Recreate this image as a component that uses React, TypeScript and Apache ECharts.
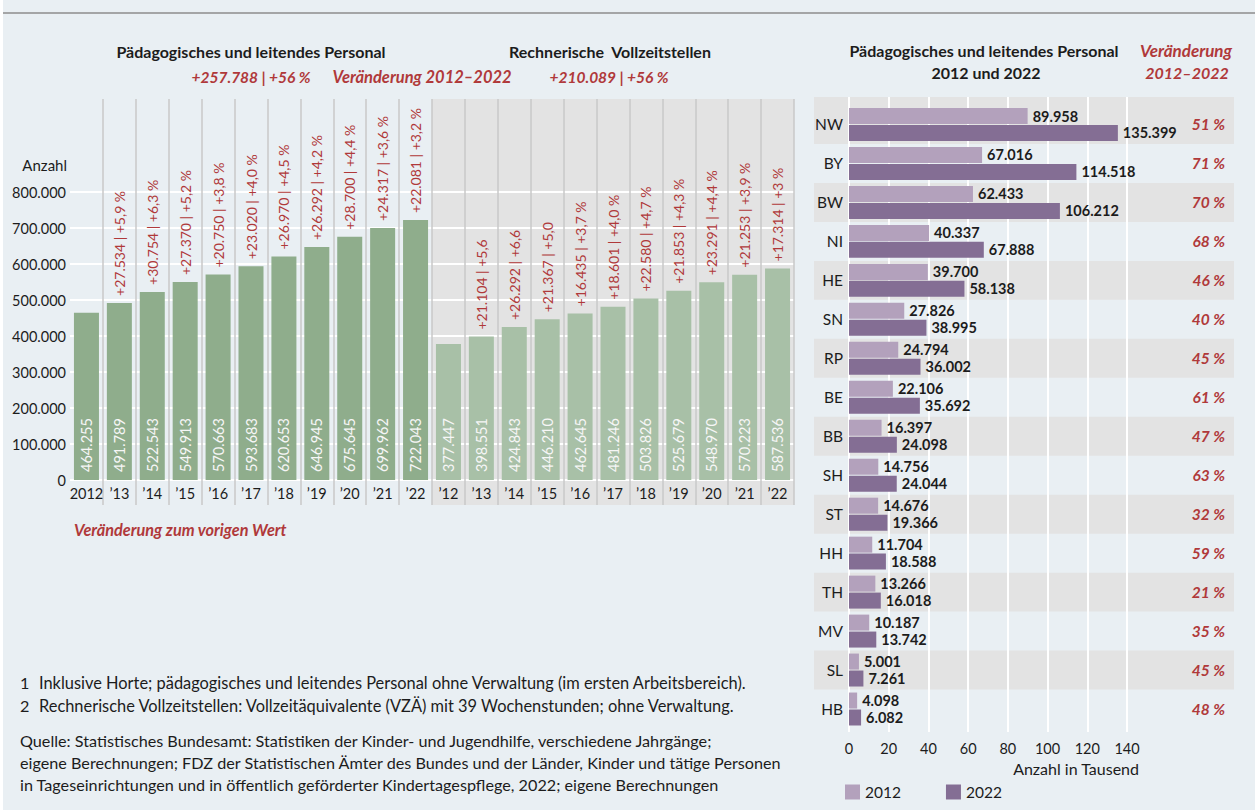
import React, { useEffect, useRef } from 'react';
import * as echarts from 'echarts';

// ---------- Left chart data ----------
const categories = [
  'P2012', 'P2013', 'P2014', 'P2015', 'P2016', 'P2017', 'P2018', 'P2019', 'P2020', 'P2021', 'P2022',
  'V2012', 'V2013', 'V2014', 'V2015', 'V2016', 'V2017', 'V2018', 'V2019', 'V2020', 'V2021', 'V2022',
];
const xLabels = [
  '2012', '\u201913', '\u201914', '\u201915', '\u201916', '\u201917', '\u201918', '\u201919', '\u201920', '\u201921', '\u201922',
  '\u201912', '\u201913', '\u201914', '\u201915', '\u201916', '\u201917', '\u201918', '\u201919', '\u201920', '\u201921', '\u201922',
];
const personal = [464255, 491789, 522543, 549913, 570663, 593683, 620653, 646945, 675645, 699962, 722043];
const vze = [377447, 398551, 424843, 446210, 462645, 481246, 503826, 525679, 548970, 570223, 587536];
const personalChange = [
  '', '+27.534 | +5,9 %', '+30.754 | +6,3 %', '+27.370 | +5,2 %', '+20.750 | +3,8 %', '+23.020 | +4,0 %',
  '+26.970 | +4,5 %', '+26.292 | +4,2 %', '+28.700 | +4,4 %', '+24.317 | +3,6 %', '+22.081 | +3,2 %',
];
const vzeChange = [
  '', '+21.104 | +5,6', '+26.292 | +6,6', '+21.367 | +5,0', '+16.435 | +3,7 %', '+18.601 | +4,0 %',
  '+22.580 | +4,7 %', '+21.853 | +4,3 %', '+23.291 | +4,4 %', '+21.253 | +3,9 %', '+17.314 | +3 %',
];
const yTicks = { min: 0, max: 800000, interval: 100000 };

// ---------- Right chart data ----------
const states = ['NW', 'BY', 'BW', 'NI', 'HE', 'SN', 'RP', 'BE', 'BB', 'SH', 'ST', 'HH', 'TH', 'MV', 'SL', 'HB'];
const v2012 = [89958, 67016, 62433, 40337, 39700, 27826, 24794, 22106, 16397, 14756, 14676, 11704, 13266, 10187, 5001, 4098];
const v2022 = [135399, 114518, 106212, 67888, 58138, 38995, 36002, 35692, 24098, 24044, 19366, 18588, 16018, 13742, 7261, 6082];
const pctChange = ['51 %', '71 %', '70 %', '68 %', '46 %', '40 %', '45 %', '61 %', '47 %', '63 %', '32 %', '59 %', '21 %', '35 %', '45 %', '48 %'];

// ---------- Styles ----------
const FONT = 'Lato';
const TXT = '#1c1c1c';
const RED = '#b0393a';
const GREEN_DARK = '#8fad8c';
const GREEN_LIGHT = '#a8c0a7';
const GREY_BAND = '#e3e3e3';
const SEP = '#c9c9c9';
const PURPLE_LIGHT = '#b3a1bc';
const PURPLE_DARK = '#846e94';
const BG = '#e9eff3';

const fmt = (n: number) => String(n).replace(/\B(?=(\d{3})+(?!\d))/g, '.');

export default function App() {
  const ref = useRef<HTMLDivElement>(null);

  useEffect(() => {
    if (!ref.current) return;
    const chart = echarts.init(ref.current, null, { renderer: 'svg' });

    const leftValues = personal.concat(vze);
    const leftChanges = personalChange.concat(vzeChange);
    const bgBand = categories.map((_, i) => (i < personal.length ? null : 1));

    const text = (x: number, y: number, t: string, o: any = {}) => ({
      type: 'text',
      x,
      y,
      style: {
        text: t,
        fontFamily: FONT,
        fontSize: 16.2,
        fill: TXT,
        align: 'left',
        verticalAlign: 'middle',
        ...o,
      },
      z: 10,
    });
    const TITLE = { fontWeight: 'bold', fontSize: 16, align: 'center' };
    const REDT = { fontWeight: 'bold', fontStyle: 'italic', fontSize: 16, align: 'center', fill: RED };

    const option: any = {
      animation: false,
      textStyle: { fontFamily: FONT },
      grid: [
        { left: 70, right: 461, top: 192, height: 288 },
        { left: 70, right: 461, top: 99, bottom: 305 },
        { left: 849, right: 128, top: 97, bottom: 78 },
        { left: 849, right: 128, top: 105, height: 623.5 },
        { left: 814, right: 21, top: 105, height: 623.5 },
      ],
      xAxis: [
        {
          gridIndex: 0,
          type: 'category',
          data: categories,
          axisLine: { show: false },
          axisTick: { show: false },
          axisLabel: {
            interval: 0,
            formatter: (_v: string, i: number) => xLabels[i],
            fontSize: 14.5,
            color: TXT,
            margin: 6,
          },
          splitLine: { show: false },
          z: 2,
        },
        {
          gridIndex: 1,
          type: 'category',
          data: categories,
          axisLine: { show: false },
          axisTick: { show: false },
          axisLabel: { show: false },
          splitLine: {
            show: true,
            interval: (i: number) => i !== 0,
            lineStyle: { color: SEP, width: 1.5 },
          },
          z: 2,
        },
        {
          gridIndex: 2,
          type: 'value',
          min: 0,
          max: 140,
          interval: 20,
          axisLine: { show: false },
          axisTick: { show: false },
          axisLabel: { show: false },
          splitLine: { show: true, lineStyle: { color: '#ffffff', width: 2 } },
          z: 1,
        },
        {
          gridIndex: 3,
          type: 'value',
          min: 0,
          max: 140,
          interval: 20,
          axisLine: { show: false },
          axisTick: { show: false },
          axisLabel: { fontSize: 14.5, color: TXT, margin: 12 },
          splitLine: { show: false },
          z: 2,
        },
        {
          gridIndex: 4,
          type: 'value',
          min: 0,
          max: 1,
          show: false,
        },
      ],
      yAxis: [
        {
          gridIndex: 0,
          type: 'value',
          min: yTicks.min,
          max: yTicks.max,
          interval: yTicks.interval,
          name: 'Anzahl',
          nameLocation: 'end',
          nameGap: 27,
          nameTextStyle: { align: 'right', fontSize: 15, color: TXT, padding: [0, 3, 0, 0], verticalAlign: 'middle' },
          axisLine: { show: false },
          axisTick: { show: false },
          axisLabel: { formatter: (v: number) => fmt(v), fontSize: 14.5, color: TXT, margin: 4 },
          splitLine: { show: true, lineStyle: { color: '#ffffff', width: 2 } },
          z: 2,
        },
        { gridIndex: 1, type: 'value', min: 0, max: 1, show: false },
        { gridIndex: 2, type: 'value', min: 0, max: 1, show: false },
        {
          gridIndex: 3,
          type: 'category',
          data: states,
          inverse: true,
          axisLine: { show: false },
          axisTick: { show: false },
          axisLabel: { fontSize: 15.5, color: TXT, margin: 6 },
          splitLine: { show: false },
          z: 2,
        },
        {
          gridIndex: 4,
          type: 'category',
          data: states,
          inverse: true,
          position: 'right',
          axisLine: { show: false },
          axisTick: { show: false },
          axisLabel: {
            inside: true,
            margin: 9,
            formatter: (_v: string, i: number) => pctChange[i],
            color: RED,
            fontSize: 15.5,
            fontWeight: 'bold',
            fontStyle: 'italic',
          },
          splitLine: { show: false },
          splitArea: { show: true, areaStyle: { color: [GREY_BAND, 'rgba(0,0,0,0)'] } },
          z: 0,
        },
      ],
      legend: {
        data: ['2012', '2022'],
        left: 845,
        top: 784,
        itemWidth: 15,
        itemHeight: 15,
        itemGap: 45,
        icon: 'rect',
        padding: 0,
        textStyle: { fontSize: 15.5, color: TXT, fontFamily: FONT },
      },
      series: [
        {
          type: 'bar',
          xAxisIndex: 1,
          yAxisIndex: 1,
          data: bgBand,
          barWidth: '100%',
          itemStyle: { color: GREY_BAND },
          silent: true,
          z: 1,
        },
        {
          type: 'bar',
          xAxisIndex: 0,
          yAxisIndex: 0,
          data: leftValues,
          barWidth: '76%',
          barGap: '-100%',
          itemStyle: {
            color: (p: any) => (p.dataIndex < personal.length ? GREEN_DARK : GREEN_LIGHT),
          },
          label: {
            show: true,
            position: 'insideBottom',
            rotate: 90,
            align: 'left',
            verticalAlign: 'middle',
            distance: 8,
            formatter: (p: any) => fmt(p.value),
            color: '#f6f6f6',
            fontSize: 14.5,
          },
          z: 3,
        },
        {
          type: 'bar',
          xAxisIndex: 0,
          yAxisIndex: 0,
          data: leftValues,
          barWidth: '76%',
          barGap: '-100%',
          itemStyle: { color: 'rgba(0,0,0,0)' },
          label: {
            show: true,
            position: 'top',
            rotate: 90,
            align: 'left',
            verticalAlign: 'middle',
            distance: 7,
            formatter: (p: any) => leftChanges[p.dataIndex],
            color: RED,
            fontSize: 14,
          },
          z: 3,
        },
        {
          name: '2012',
          type: 'bar',
          xAxisIndex: 3,
          yAxisIndex: 3,
          data: v2012.map((v) => v / 1000),
          barWidth: 16,
          barGap: '6%',
          itemStyle: { color: PURPLE_LIGHT },
          label: {
            show: true,
            position: 'right',
            distance: 5,
            formatter: (p: any) => fmt(v2012[p.dataIndex]),
            color: TXT,
            fontSize: 14.5,
            fontWeight: 'bold',
          },
          z: 3,
        },
        {
          name: '2022',
          type: 'bar',
          xAxisIndex: 3,
          yAxisIndex: 3,
          data: v2022.map((v) => v / 1000),
          barWidth: 16,
          barGap: '6%',
          itemStyle: { color: PURPLE_DARK },
          label: {
            show: true,
            position: 'right',
            distance: 5,
            formatter: (p: any) => fmt(v2022[p.dataIndex]),
            color: TXT,
            fontSize: 14.5,
            fontWeight: 'bold',
          },
          z: 3,
        },
      ],
      graphic: [
        { type: 'line', shape: { x1: 3, y1: 13, x2: 1255, y2: 13 }, style: { stroke: '#8c8c8c', lineWidth: 1.5 }, z: 10 },
        { type: 'rect', shape: { x: 814, y: 97, width: 420, height: 8 }, style: { fill: GREY_BAND }, z: 0 },
        text(251, 51, 'Pädagogisches und leitendes Personal', TITLE),
        text(251, 77, '+257.788 | +56 %', { ...REDT, fontSize: 15.5 }),
        text(422, 77, 'Veränderung 2012–2022', { ...REDT, fontSize: 16.5 }),
        text(610, 51, 'Rechnerische  Vollzeitstellen', TITLE),
        text(609, 77, '+210.089 | +56 %', { ...REDT, fontSize: 15.5 }),
        text(74, 529, 'Veränderung zum vorigen Wert', { ...REDT, align: 'left', fontSize: 16.3 }),
        text(984, 50, 'Pädagogisches und leitendes Personal', TITLE),
        text(986, 72, '2012 und 2022', TITLE),
        text(1186, 50, 'Veränderung', { ...REDT, fontSize: 17 }),
        text(1187, 72, '2012–2022', REDT),
        text(1139, 768, 'Anzahl in Tausend', { fontSize: 16, align: 'right' }),
        text(20, 682, '1'),
        text(39, 682, 'Inklusive Horte; pädagogisches und leitendes Personal ohne Verwaltung (im ersten Arbeitsbereich).', { fontSize: 16.4 }),
        text(20, 705, '2'),
        text(39, 705, 'Rechnerische Vollzeitstellen: Vollzeitäquivalente (VZÄ) mit 39 Wochenstunden; ohne Verwaltung.', { fontSize: 16.4 }),
        text(20, 740, 'Quelle: Statistisches Bundesamt: Statistiken der Kinder- und Jugendhilfe, verschiedene Jahrgänge;'),
        text(20, 762, 'eigene Berechnungen; FDZ der Statistischen Ämter des Bundes und der Länder, Kinder und tätige Personen'),
        text(20, 784, 'in Tageseinrichtungen und in öffentlich geförderter Kindertagespflege, 2022; eigene Berechnungen'),
      ],
    };

    chart.setOption(option);
    return () => chart.dispose();
  }, []);

  return (
    <div
      ref={ref}
      style={{
        position: 'absolute',
        left: 0,
        top: 0,
        width: 1255,
        height: 810,
        background: `linear-gradient(to right, #ffffff 3px, ${BG} 3px)`,
      }}
    />
  );
}
